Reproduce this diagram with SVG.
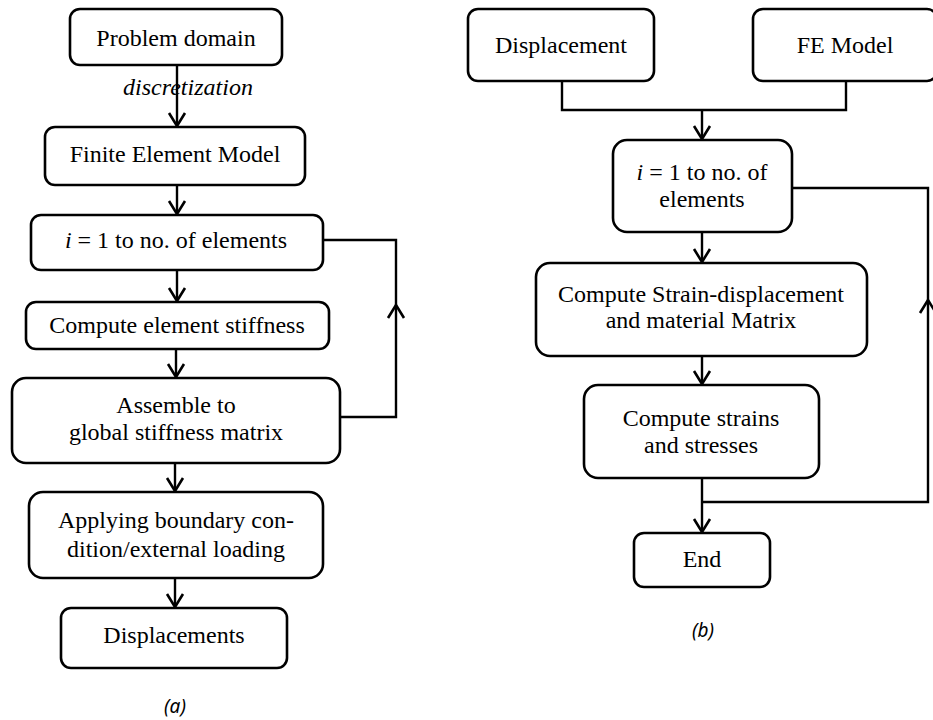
<svg xmlns="http://www.w3.org/2000/svg" width="933" height="720" viewBox="0 0 933 720">
<style>
.box{fill:#fff;stroke:#000;stroke-width:2.6}
.t{font-family:"Liberation Serif","Times New Roman","DejaVu Serif",serif;font-size:24px;fill:#000;text-anchor:middle}
.it{font-style:italic}
.ln{fill:none;stroke:#000;stroke-width:2.4}
.cap{font-family:"Noto Sans","Open Sans",sans-serif;font-style:italic;font-size:19px;fill:#000;text-anchor:middle}
</style>
<defs>
<marker id="ah" viewBox="-16 -11 18 22" markerWidth="18" markerHeight="22" refX="0" refY="0" orient="auto" markerUnits="userSpaceOnUse">
<path d="M-13,-8 L0,0 L-13,8" fill="none" stroke="#000" stroke-width="2.6"/>
</marker>
</defs>
<rect width="933" height="720" fill="#fff"/>
<g id="connectors">
<line class="ln" x1="177" y1="65" x2="177" y2="126" marker-end="url(#ah)"/>
<line class="ln" x1="177" y1="185" x2="177" y2="214" marker-end="url(#ah)"/>
<line class="ln" x1="177" y1="270" x2="177" y2="301" marker-end="url(#ah)"/>
<line class="ln" x1="176" y1="349" x2="176" y2="377" marker-end="url(#ah)"/>
<line class="ln" x1="175" y1="463" x2="175" y2="491" marker-end="url(#ah)"/>
<line class="ln" x1="175" y1="578" x2="175" y2="607" marker-end="url(#ah)"/>
<path class="ln" d="M340,417 H396 V305" marker-end="url(#ah)"/>
<path class="ln" d="M396,305 V240 H323"/>
<path class="ln" d="M562,81 V110 H846 V81"/>
<line class="ln" x1="702" y1="110" x2="702" y2="139" marker-end="url(#ah)"/>
<line class="ln" x1="702" y1="232" x2="702" y2="262" marker-end="url(#ah)"/>
<line class="ln" x1="702" y1="356" x2="702" y2="384" marker-end="url(#ah)"/>
<line class="ln" x1="702" y1="478" x2="702" y2="532" marker-end="url(#ah)"/>
<path class="ln" d="M702,502 H928 V300" marker-end="url(#ah)"/>
<path class="ln" d="M928,300 V188 H792"/>
<text class="t it" x="188" y="95" text-anchor="start">discretization</text>
</g>
<g id="n-problem"><rect class="box" x="70" y="9" width="212" height="56" rx="10"/><text class="t" x="176" y="46">Problem domain</text></g>
<g id="n-fem"><rect class="box" x="45" y="127" width="260" height="58" rx="10"/><text class="t" x="175" y="162">Finite Element Model</text></g>
<g id="n-loop-a"><rect class="box" x="31" y="215" width="292" height="55" rx="10"/><text class="t" x="176" y="248"><tspan class="it">i</tspan> = 1 to no. of elements</text></g>
<g id="n-stiff"><rect class="box" x="26" y="302" width="303" height="47" rx="10"/><text class="t" x="177" y="333">Compute element stiffness</text></g>
<g id="n-assemble"><rect class="box" x="12" y="378" width="328" height="85" rx="14"/><text class="t" x="176" y="413">Assemble to</text><text class="t" x="176" y="440">global stiffness matrix</text></g>
<g id="n-bc"><rect class="box" x="29" y="492" width="294" height="86" rx="14"/><text class="t" x="176" y="528">Applying boundary con-</text><text class="t" x="176" y="557">dition/external loading</text></g>
<g id="n-disps"><rect class="box" x="61" y="608" width="226" height="60" rx="10"/><text class="t" x="174" y="643">Displacements</text></g>
<text class="cap" x="175" y="713">(a)</text>
<g id="n-disp"><rect class="box" x="468" y="9" width="186" height="72" rx="10"/><text class="t" x="561" y="53">Displacement</text></g>
<g id="n-femodel"><rect class="box" x="753" y="9" width="184" height="72" rx="10"/><text class="t" x="845" y="53">FE Model</text></g>
<g id="n-loop-b"><rect class="box" x="613" y="140" width="179" height="92" rx="14"/><text class="t" x="702" y="180"><tspan class="it">i</tspan> = 1 to no. of</text><text class="t" x="702" y="207">elements</text></g>
<g id="n-bmat"><rect class="box" x="536" y="263" width="331" height="93" rx="14"/><text class="t" x="701" y="302">Compute Strain-displacement</text><text class="t" x="701" y="328">and material Matrix</text></g>
<g id="n-strains"><rect class="box" x="584" y="385" width="235" height="93" rx="14"/><text class="t" x="701" y="426">Compute strains</text><text class="t" x="701" y="453">and stresses</text></g>
<g id="n-end"><rect class="box" x="634" y="533" width="136" height="54" rx="10"/><text class="t" x="702" y="567">End</text></g>
<text class="cap" x="703" y="637">(b)</text>
</svg>
